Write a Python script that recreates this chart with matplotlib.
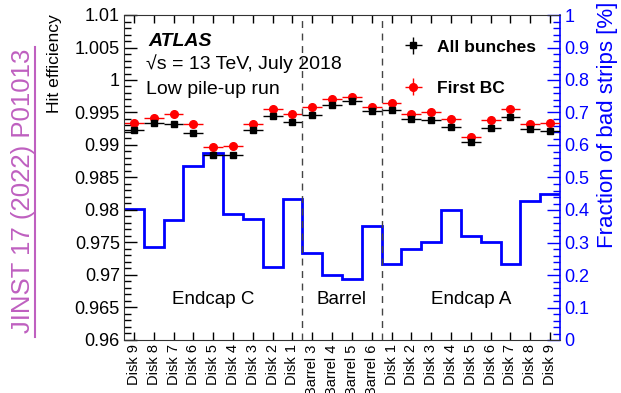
"""SCT hit efficiency per layer (low pile-up run) with fraction of bad strips on a second axis."""
import numpy as np
import matplotlib
matplotlib.use("Agg")
import matplotlib.pyplot as plt
from matplotlib.ticker import MultipleLocator, FuncFormatter
from matplotlib.lines import Line2D

# layers, Endcap C -> Barrel -> Endcap A
layers = ["Disk 9", "Disk 8", "Disk 7", "Disk 6", "Disk 5", "Disk 4", "Disk 3", "Disk 2", "Disk 1",
          "Barrel 3", "Barrel 4", "Barrel 5", "Barrel 6",
          "Disk 1", "Disk 2", "Disk 3", "Disk 4", "Disk 5", "Disk 6", "Disk 7", "Disk 8", "Disk 9"]
eff_all = [0.9923, 0.9934, 0.9933, 0.9918, 0.9885, 0.9885, 0.9923, 0.9945, 0.9935,
           0.9946, 0.9961, 0.9967, 0.9953,
           0.9954, 0.9940, 0.9938, 0.9927, 0.9905, 0.9926, 0.9943, 0.9924, 0.9922]
eff_first = [0.9934, 0.9942, 0.9948, 0.9932, 0.9897, 0.9898, 0.9933, 0.9955, 0.9947,
             0.9959, 0.9971, 0.9974, 0.9958,
             0.9964, 0.9948, 0.9951, 0.9940, 0.9913, 0.9939, 0.9955, 0.9933, 0.9934]
bad_frac = [0.404, 0.286, 0.368, 0.536, 0.576, 0.389, 0.371, 0.226, 0.434,
            0.268, 0.201, 0.187, 0.351,
            0.233, 0.281, 0.302, 0.399, 0.320, 0.302, 0.235, 0.428, 0.450]
regions = ["Endcap C", "Barrel", "Endcap A"]
region_edges = [0, 9, 13, 22]

plt.rcParams.update({"font.family": ["Liberation Sans", "DejaVu Sans"], "font.size": 13})

n = len(layers)
x = np.arange(n) + 0.5
edges = np.arange(n + 1)

fig = plt.figure(figsize=(6.21, 3.93), dpi=100)
W, H = 621, 393
ax = fig.add_axes([124 / W, 1 - 340 / H, 436 / W, 325 / H])
ax2 = ax.twinx()
ax.set_zorder(ax2.get_zorder() + 1); ax.patch.set_visible(False)

# bad strip fraction (right axis)
ax2.stairs(bad_frac, edges, baseline=None, color="#0000ff", lw=2)
ax2.set_ylim(0, 1)
ax2.yaxis.set_major_locator(MultipleLocator(0.1))
ax2.yaxis.set_minor_locator(MultipleLocator(0.02))
ax2.yaxis.set_major_formatter(FuncFormatter(lambda v, p: f"{v:g}"))
ax2.tick_params(axis="y", which="both", direction="in", colors="#0000ff", labelsize=13, pad=3)
ax2.tick_params(axis="y", which="major", length=9.5, width=1)
ax2.tick_params(axis="y", which="minor", length=4.7, width=1)
ax2.spines["right"].set_color("#0000ff"); ax2.spines["right"].set_linewidth(1.2)
for s in ["left", "top", "bottom"]:
    ax2.spines[s].set_visible(False)

# efficiencies (left axis)
ax.errorbar(x, eff_first, xerr=0.5, yerr=np.zeros(n), fmt="o", color="red", ms=5.5, lw=1, capsize=0,
            label="First BC")
ax.errorbar(x, eff_all, xerr=0.5, yerr=np.zeros(n), fmt="s", color="black", ms=5, lw=1, capsize=0,
            label="All bunches")
ax.set_ylim(0.96, 1.01); ax.set_xlim(0, n)
ax.yaxis.set_major_locator(MultipleLocator(0.005))
ax.yaxis.set_minor_locator(MultipleLocator(0.001))
ax.yaxis.set_major_formatter(FuncFormatter(lambda v, p: f"{v:g}"))
ax.tick_params(axis="y", which="both", direction="in", labelsize=13, pad=3)
ax.tick_params(axis="y", which="major", length=9.5, width=1)
ax.tick_params(axis="y", which="minor", length=4.7, width=1)
ax.set_xticks(x)
ax.set_xticklabels(layers, rotation=90, fontsize=10.5)
ax.tick_params(axis="x", direction="in", top=True, length=6, width=1, pad=3)
ax.spines["right"].set_visible(False)
for s in ["left", "top", "bottom"]:
    ax.spines[s].set_color("#333333")

for b in region_edges[1:-1]:
    ax.axvline(b, color="#444444", lw=1, ls=(0, (5, 4)))
for name, lo, hi in zip(regions, region_edges[:-1], region_edges[1:]):
    ax.text((lo + hi) / 2, 0.9663, name, ha="center", va="center", fontsize=13.5)

h, l = ax.get_legend_handles_labels()
ax.legend(h[::-1], l[::-1], loc="upper left", bbox_to_anchor=(0.628, 0.925), frameon=False,
          prop={"weight": "bold", "size": 12.5}, handlelength=1.8, handletextpad=0.45,
          labelspacing=1.5, borderpad=0, borderaxespad=0)

ax.text(0.055, 0.92, "ATLAS", transform=ax.transAxes, fontsize=14, fontweight="bold",
        fontstyle="italic", va="center")
ax.text(0.05, 0.85, "\u221as = 13 TeV, July 2018", transform=ax.transAxes, fontsize=14, va="center")
ax.text(0.05, 0.77, "Low pile-up run", transform=ax.transAxes, fontsize=14, va="center")

fig.text(55 / W, 1 - 14 / H, "Hit efficiency", rotation=90, ha="center", va="top", fontsize=12.6)
fig.text(607 / W, 1 - 2 / H, "Fraction of bad strips [%]", rotation=90, ha="center", va="top",
         fontsize=16, color="#0000ff")
fig.text(23 / W, 1 - 191 / H, "JINST 17 (2022) P01013", rotation=90, ha="center", va="center",
         fontsize=18.5, color="#bf60c0")
fig.add_artist(Line2D([35 / W, 35 / W], [1 - 337 / H, 1 - 47 / H], color="#bf60c0", lw=1.5))

fig.savefig("out.png", dpi=100)
